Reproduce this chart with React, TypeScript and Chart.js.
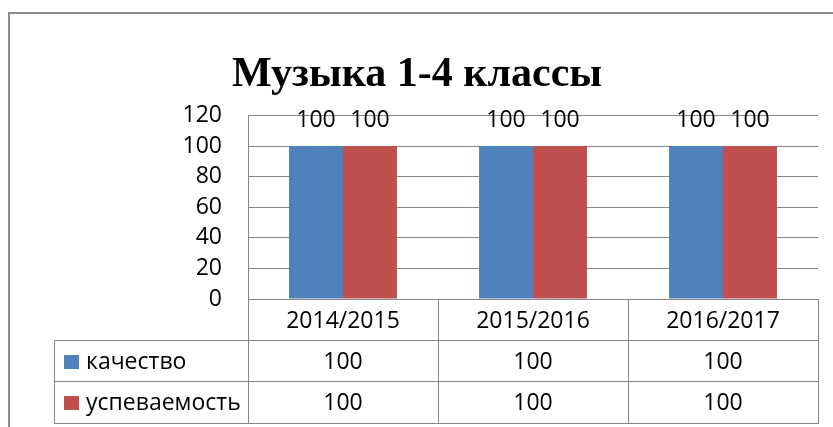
import React, { useEffect, useRef } from "react";
import { Chart, registerables } from "chart.js";

Chart.register(...registerables);

const chartTitle = "Музыка 1-4 классы";
const categories = ["2014/2015", "2015/2016", "2016/2017"];
const seriesNames = ["качество", "успеваемость"];
const quality = [100, 100, 100];
const progress = [100, 100, 100];
const yMin = 0;
const yMax = 120;
const yStep = 20;

const BLUE = "#4F81BD";
const RED = "#C0504D";
const GRID = "#868686";
const FONT = "'Open Sans', 'Noto Sans', sans-serif";
const FONT_SIZE = 23;

const framePlugin = {
  id: "frame",
  beforeDraw(chart: any) {
    const ctx = chart.ctx;
    ctx.save();
    ctx.strokeStyle = "#8c8c8c";
    ctx.lineWidth = 2;
    ctx.strokeRect(9, 13, 1000, 1000);
    ctx.restore();
  },
};

const labelPlugin = {
  id: "barLabels",
  afterDatasetsDraw(chart: any) {
    const ctx = chart.ctx;
    ctx.save();
    ctx.font = `${FONT_SIZE}px ${FONT}`;
    ctx.fillStyle = "#000";
    ctx.textAlign = "center";
    ctx.textBaseline = "alphabetic";
    chart.data.datasets.forEach((ds: any, di: number) => {
      const meta = chart.getDatasetMeta(di);
      meta.data.forEach((bar: any, i: number) => {
        ctx.fillText(String(ds.data[i]), bar.x, bar.y - 19);
      });
    });
    ctx.restore();
  },
};

const tablePlugin = {
  id: "dataTable",
  afterDraw(chart: any) {
    const ctx = chart.ctx;
    const area = chart.chartArea;
    const xs = chart.scales.x;
    const n = categories.length;
    const w = (area.right - area.left) / n;
    const top = area.bottom;
    const rowH = [41, 41, 42];
    const y1 = top + rowH[0];
    const y2 = y1 + rowH[1];
    const y3 = y2 + rowH[2];
    const leftCol = 54;
    const a = (v: number) => Math.round(v) + 0.5;
    ctx.save();
    ctx.strokeStyle = GRID;
    ctx.lineWidth = 1;
    const line = (xa: number, ya: number, xb: number, yb: number) => {
      ctx.beginPath();
      ctx.moveTo(xa, ya);
      ctx.lineTo(xb, yb);
      ctx.stroke();
    };
    [y1, y2, y3].forEach((y) => line(leftCol, a(y), area.right + 1, a(y)));
    line(a(leftCol), y1, a(leftCol), y3);
    for (let i = 0; i <= n; i++) {
      const x = i < n ? xs.getPixelForValue(i) - w / 2 : area.right;
      line(a(x), top, a(x), y3);
    }
    ctx.font = `${FONT_SIZE}px ${FONT}`;
    ctx.fillStyle = "#000";
    ctx.textBaseline = "alphabetic";
    ctx.textAlign = "center";
    const series = [quality, progress];
    const colors = [BLUE, RED];
    categories.forEach((c, i) => {
      const cx = xs.getPixelForValue(i);
      ctx.fillText(c, cx, top + 29);
      series.forEach((s, si) => {
        const rt = si === 0 ? y1 : y2;
        ctx.fillText(String(s[i]), cx, rt + 28.5);
      });
    });
    seriesNames.forEach((name, si) => {
      const rt = si === 0 ? y1 : y2;
      ctx.fillStyle = colors[si];
      ctx.fillRect(64, rt + 15, 15, 14);
      ctx.fillStyle = "#000";
      ctx.textAlign = "left";
      ctx.fillText(name, 86, rt + 28.5);
    });
    ctx.restore();
  },
};

export default function App() {
  const ref = useRef<HTMLCanvasElement | null>(null);
  useEffect(() => {
    if (!ref.current) return;
    const chart = new Chart(ref.current, {
      type: "bar",
      data: {
        labels: categories,
        datasets: [
          { label: seriesNames[0], data: quality, backgroundColor: BLUE, borderWidth: 0 },
          { label: seriesNames[1], data: progress, backgroundColor: RED, borderWidth: 0 },
        ],
      },
      options: {
        responsive: false,
        animation: false,
        devicePixelRatio: 1,
        layout: { padding: { left: 16, right: 15, top: 0, bottom: 128 } },
        datasets: { bar: { categoryPercentage: 0.568, barPercentage: 1 } },
        plugins: {
          legend: { display: false },
          tooltip: { enabled: false },
          title: {
            display: true,
            text: chartTitle,
            color: "#000",
            font: { family: "'Liberation Serif', 'Times New Roman', serif", size: 42, weight: "bold" },
            padding: { top: 50, bottom: 15 },
          },
        },
        scales: {
          x: { display: false },
          y: {
            min: yMin,
            max: yMax,
            afterFit: (scale: any) => {
              scale.width = 232;
            },
            ticks: {
              stepSize: yStep,
              padding: 26,
              color: "#000",
              font: { family: FONT, size: FONT_SIZE },
            },
            grid: { color: GRID, lineWidth: 1, drawTicks: false },
            border: { display: true, color: GRID, width: 1 },
          },
        },
      },
      plugins: [framePlugin, labelPlugin, tablePlugin],
    });
    return () => chart.destroy();
  }, []);
  return (
    <div style={{ position: "fixed", left: 0, top: 0, width: 833, height: 427, background: "#fff" }}>
      <canvas ref={ref} width={833} height={427} />
    </div>
  );
}
